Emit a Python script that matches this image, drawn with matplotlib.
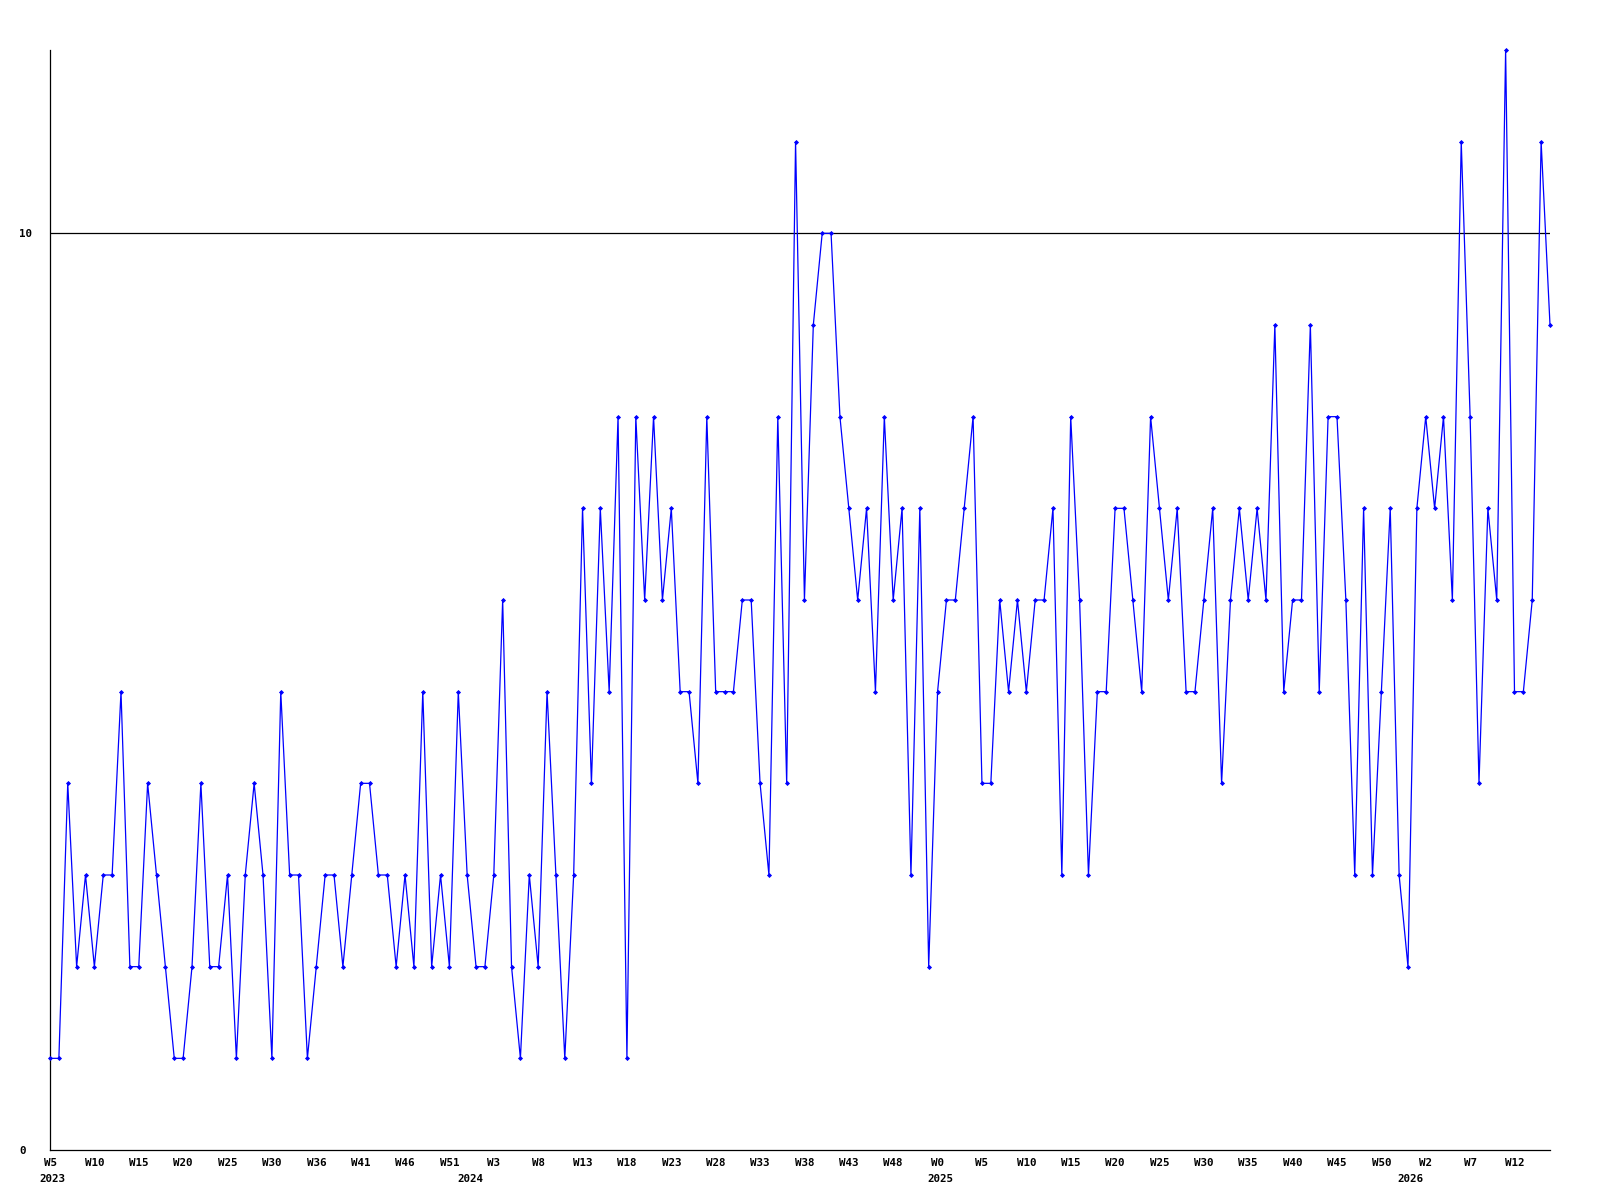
import matplotlib
matplotlib.use("Agg")
import matplotlib.pyplot as plt

values = [1, 1, 4, 2, 3, 2, 3, 3, 5, 2,
          2, 4, 3, 2, 1, 1, 2, 4, 2, 2,
          3, 1, 3, 4, 3, 1, 5, 3, 3, 1,
          2, 3, 3, 2, 3, 4, 4, 3, 3, 2,
          3, 2, 5, 2, 3, 2, 5, 3, 2, 2,
          3, 6, 2, 1, 3, 2, 5, 3, 1, 3,
          7, 4, 7, 5, 8, 1, 8, 6, 8, 6,
          7, 5, 5, 4, 8, 5, 5, 5, 6, 6,
          4, 3, 8, 4, 11, 6, 9, 10, 10, 8,
          7, 6, 7, 5, 8, 6, 7, 3, 7, 2,
          5, 6, 6, 7, 8, 4, 4, 6, 5, 6,
          5, 6, 6, 7, 3, 8, 6, 3, 5, 5,
          7, 7, 6, 5, 8, 7, 6, 7, 5, 5,
          6, 7, 4, 6, 7, 6, 7, 6, 9, 5,
          6, 6, 9, 5, 8, 8, 6, 3, 7, 3,
          5, 7, 3, 2, 7, 8, 7, 8, 6, 11,
          8, 4, 7, 6, 12, 5, 5, 6, 11, 9]

week_labels = ["W5", "W10", "W15", "W20", "W25", "W30", "W36", "W41", "W46", "W51",
               "W3", "W8", "W13", "W18", "W23", "W28", "W33", "W38", "W43", "W48",
               "W0", "W5", "W10", "W15", "W20", "W25", "W30", "W35", "W40", "W45",
               "W50", "W2", "W7", "W12"]
year_labels = ["2023", "2024", "2025", "2026"]
year_index = [0.3, 47.4, 100.3, 153.3]
ytick_values = [0, 10]

W, H = 1600, 1200
fig = plt.figure(figsize=(16, 12), dpi=100)
ax = fig.add_axes([50 / W, 50 / H, 1500 / W, 1100 / H])

x = list(range(len(values)))
ax.plot(x, values, color=(0, 0, 1), linewidth=0.9, marker='D', markersize=2.6,
        markeredgewidth=0, markerfacecolor=(0, 0, 1), clip_on=False, zorder=3)
ax.axhline(10, color='black', linewidth=0.9, zorder=2)

ax.set_xlim(0, len(values) - 1)
ax.set_ylim(0, 12)

for s in ['top', 'right']:
    ax.spines[s].set_visible(False)
for s in ['left', 'bottom']:
    ax.spines[s].set_linewidth(0.9)
    ax.spines[s].set_color('black')

font = dict(family='DejaVu Sans Mono', weight='bold', size=7.8)

ax.set_xticks(list(range(0, len(values), 5))[:len(week_labels)])
ax.set_xticklabels(week_labels, **font)
ax.tick_params(axis='x', length=0, pad=6)

ax.set_yticks(ytick_values)
ax.set_yticklabels([str(v) for v in ytick_values], **font)
ax.tick_params(axis='y', length=0, pad=22.3)
for lab in ax.get_yticklabels():
    lab.set_horizontalalignment('left')

trans = ax.get_xaxis_transform()
for yi, yl in zip(year_index, year_labels):
    ax.text(yi, -24 / 1100, yl, transform=trans, ha='center', va='top', **font)

fig.savefig("out.png", dpi=100, facecolor='white')
